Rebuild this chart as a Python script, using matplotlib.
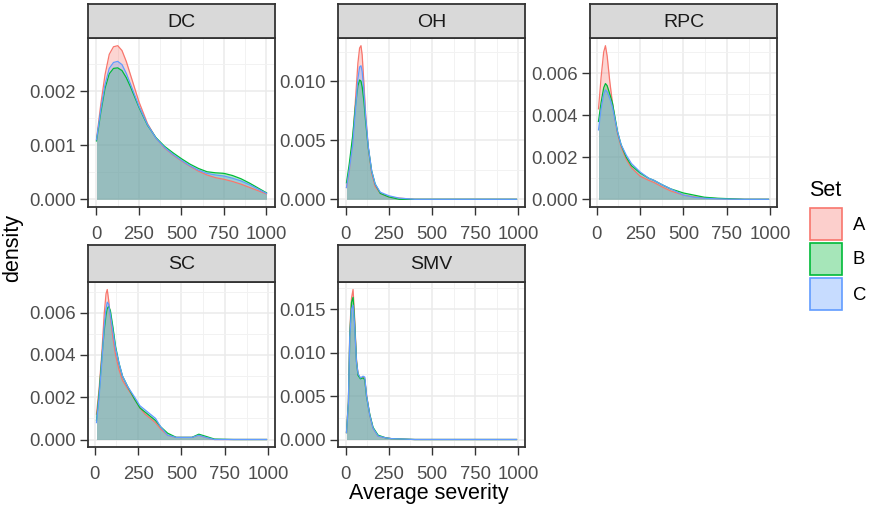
import matplotlib
matplotlib.use("Agg")
import matplotlib.pyplot as plt
from matplotlib.patches import Rectangle
from matplotlib.ticker import MultipleLocator, FormatStrFormatter

plt.rcParams['font.family'] = ['Liberation Sans', 'DejaVu Sans']

# density estimates of average severity per group and set
sets = ['A', 'B', 'C']
colors = {'A': '#F8766D', 'B': '#00BA38', 'C': '#619CFF'}

dc_x = [0, 25, 50, 75, 100, 125, 150, 175, 200, 250, 300, 350, 400, 450, 500,
        550, 600, 650, 700, 750, 800, 850, 900, 950, 1000]
dc_a = [0.00110, 0.00175, 0.00230, 0.00268, 0.00282, 0.00284, 0.00275, 0.00255,
        0.00230, 0.00180, 0.00140, 0.00113, 0.00095, 0.00082, 0.00071, 0.00061,
        0.00052, 0.00045, 0.00040, 0.00037, 0.00033, 0.00028, 0.00022, 0.00016, 0.00010]
dc_b = [0.00108, 0.00160, 0.00205, 0.00232, 0.00242, 0.00243, 0.00238, 0.00225,
        0.00208, 0.00170, 0.00137, 0.00114, 0.00098, 0.00086, 0.00075, 0.00065,
        0.00057, 0.00051, 0.00049, 0.00048, 0.00044, 0.00038, 0.00030, 0.00021, 0.00012]
dc_c = [0.00110, 0.00165, 0.00212, 0.00242, 0.00253, 0.00255, 0.00249, 0.00233,
        0.00213, 0.00172, 0.00138, 0.00113, 0.00096, 0.00083, 0.00072, 0.00062,
        0.00054, 0.00048, 0.00045, 0.00043, 0.00039, 0.00034, 0.00027, 0.00019, 0.00011]

oh_x = [4, 20, 40, 55, 70, 80, 88, 95, 105, 115, 130, 150, 170, 200, 250, 310,
        400, 600, 800, 990]
oh_a = [0.0010, 0.0024, 0.0050, 0.0082, 0.0115, 0.0128, 0.0130, 0.0122, 0.0098,
        0.0072, 0.0044, 0.0022, 0.0011, 0.0005, 0.0002, 0.0001, 0.0, 0.0, 0.0, 0.0]
oh_b = [0.0014, 0.0030, 0.0054, 0.0078, 0.0096, 0.0101, 0.0100, 0.0095, 0.0083,
        0.0066, 0.0044, 0.0024, 0.0013, 0.0005, 0.0002, 0.0, 0.0, 0.0, 0.0, 0.0]
oh_c = [0.0010, 0.0025, 0.0046, 0.0074, 0.0102, 0.0112, 0.0113, 0.0108, 0.0092,
        0.0070, 0.0045, 0.0024, 0.0013, 0.0006, 0.0003, 0.0001, 0.0, 0.0, 0.0, 0.0]

rpc_x = [10, 25, 40, 50, 60, 75, 90, 105, 120, 140, 170, 200, 250, 300, 330,
         375, 425, 500, 560, 620, 700, 760, 850, 990]
rpc_a = [0.0043, 0.0058, 0.0070, 0.0073, 0.0068, 0.0056, 0.0046, 0.0038, 0.0031,
         0.0025, 0.0019, 0.0015, 0.0011, 0.0009, 0.0008, 0.0006, 0.0004, 0.0002,
         0.00012, 0.00006, 0.00003, 0.00002, 0.0, 0.0]
rpc_b = [0.0037, 0.0046, 0.0053, 0.0055, 0.0054, 0.0050, 0.0046, 0.0039, 0.0032,
         0.0026, 0.0020, 0.0016, 0.00125, 0.0010, 0.0009, 0.0007, 0.0005, 0.0003,
         0.0002, 0.0001, 0.00005, 0.00003, 0.0, 0.0]
rpc_c = [0.0033, 0.0043, 0.0050, 0.0052, 0.0051, 0.0048, 0.0044, 0.0038, 0.0032,
         0.0026, 0.0021, 0.0017, 0.0013, 0.0010, 0.0009, 0.0007, 0.0005, 0.0002,
         0.0001, 0.00005, 0.00002, 0.00001, 0.0, 0.0]

sc_x = [10, 25, 40, 55, 65, 72, 80, 90, 105, 120, 140, 160, 190, 230, 260, 290,
        320, 350, 380, 420, 470, 520, 560, 600, 640, 690, 800, 990]
sc_a = [0.0012, 0.0024, 0.0040, 0.0060, 0.0069, 0.0071, 0.0066, 0.0058, 0.0048,
        0.0040, 0.0033, 0.0028, 0.0024, 0.0019, 0.0015, 0.0012, 0.0010, 0.0008,
        0.0005, 0.0002, 0.0001, 0.0001, 0.0001, 0.0002, 0.0001, 0.0, 0.0, 0.0]
sc_b = [0.0009, 0.0022, 0.0038, 0.0052, 0.0059, 0.0062, 0.0063, 0.0061, 0.0053,
        0.0044, 0.0036, 0.0030, 0.0025, 0.0019, 0.0015, 0.0013, 0.0011, 0.0009,
        0.0006, 0.0003, 0.0001, 0.0001, 0.0001, 0.00025, 0.00015, 0.00002, 0.0, 0.0]
sc_c = [0.0008, 0.0020, 0.0036, 0.0054, 0.0062, 0.0065, 0.0064, 0.0059, 0.0051,
        0.0043, 0.0036, 0.0030, 0.0025, 0.0020, 0.0016, 0.0014, 0.0012, 0.0010,
        0.0006, 0.0002, 0.0001, 0.0001, 0.0001, 0.0002, 0.0001, 0.0, 0.0, 0.0]

smv_x = [4, 15, 23, 33, 42, 50, 62, 71, 85, 100, 110, 120, 139, 158, 187, 230,
         264, 400, 600, 800, 990]
smv_a = [0.0008, 0.0045, 0.0125, 0.0163, 0.0173, 0.0145, 0.0092, 0.0075, 0.0071,
         0.0072, 0.0070, 0.0052, 0.0028, 0.0013, 0.0004, 0.0002, 0.0001, 0.0, 0.0, 0.0, 0.0]
smv_b = [0.0008, 0.0043, 0.0120, 0.0158, 0.0164, 0.0140, 0.0090, 0.0074, 0.0070,
         0.0071, 0.0069, 0.0050, 0.0029, 0.0014, 0.0005, 0.0002, 0.0001, 0.0, 0.0, 0.0, 0.0]
smv_c = [0.0008, 0.0042, 0.0118, 0.0150, 0.0155, 0.0135, 0.0089, 0.0076, 0.0071,
         0.0073, 0.0072, 0.0051, 0.0028, 0.0013, 0.0004, 0.0002, 0.0001, 0.0, 0.0, 0.0, 0.0]

panels = [
    ('DC', dc_x, {'A': dc_a, 'B': dc_b, 'C': dc_c}, 0.001),
    ('OH', oh_x, {'A': oh_a, 'B': oh_b, 'C': oh_c}, 0.005),
    ('RPC', rpc_x, {'A': rpc_a, 'B': rpc_b, 'C': rpc_c}, 0.002),
    ('SC', sc_x, {'A': sc_a, 'B': sc_b, 'C': sc_c}, 0.002),
    ('SMV', smv_x, {'A': smv_a, 'B': smv_b, 'C': smv_c}, 0.005),
]

W, H = 870, 508
fig = plt.figure(figsize=(W / 100, H / 100), dpi=100)


def px_box(l, t, r, b):
    # pixel box (top-left origin) -> figure fraction rect
    return [l / W, 1 - b / H, (r - l) / W, (b - t) / H]


col_left = [88, 338, 590]
rows = [(4, 38, 207), (245, 282, 447)]  # strip top, panel top, panel bottom
pw = 187
border = '#333333'

for i, (name, xs, ys, step) in enumerate(panels):
    r, c = divmod(i, 3)
    st, pt, pb = rows[r]
    l = col_left[c]

    ax = fig.add_axes(px_box(l, pt, l + pw, pb))
    for s in sets:
        ax.fill_between(xs, ys[s], 0, color=colors[s], alpha=0.3, lw=0, zorder=2)
    for s in sets:
        ax.plot(xs, ys[s], color=colors[s], lw=0.9, zorder=3)

    ymax = max(max(ys[s]) for s in sets)
    xmin, xmax = min(xs), max(xs)
    dx = xmax - xmin
    ax.set_xlim(xmin - 0.05 * dx, xmax + 0.05 * dx)
    ax.set_ylim(-0.05 * ymax, 1.05 * ymax)

    ax.xaxis.set_major_locator(MultipleLocator(250))
    ax.xaxis.set_minor_locator(MultipleLocator(125))
    ax.yaxis.set_major_locator(MultipleLocator(step))
    ax.yaxis.set_minor_locator(MultipleLocator(step / 2))
    ax.yaxis.set_major_formatter(FormatStrFormatter('%.3f'))
    ax.xaxis.set_major_formatter(FormatStrFormatter('%d'))

    ax.grid(which='major', color='#EBEBEB', lw=1.1, zorder=0)
    ax.grid(which='minor', color='#F2F2F2', lw=0.7, zorder=0)
    ax.set_axisbelow(True)
    ax.tick_params(which='major', length=5.5, width=1, color=border,
                   labelsize=13.3, labelcolor='#4D4D4D')
    ax.tick_params(axis='y', pad=3.5)
    ax.tick_params(axis='x', pad=8.5)
    ax.tick_params(which='minor', length=0)
    for sp in ax.spines.values():
        sp.set_color(border)
        sp.set_linewidth(1.3)

    # facet strip
    sax = fig.add_axes(px_box(l, st, l + pw, pt))
    sax.set_xticks([])
    sax.set_yticks([])
    sax.set_facecolor('#D9D9D9')
    for sp in sax.spines.values():
        sp.set_color(border)
        sp.set_linewidth(1.3)
    sax.text(0.5, 0.47, name, ha='center', va='center', fontsize=14,
             color='#1A1A1A', transform=sax.transAxes)

fig.text(429 / W, 1 - 494 / H, 'Average severity', ha='center', va='center',
         fontsize=15.5)
fig.text(13 / W, 1 - 248 / H, 'density', ha='center', va='center',
         rotation=90, fontsize=15.5)

# legend for Set, laid out in pixel units
lax = fig.add_axes([0, 0, 1, 1], zorder=-1)
lax.set_xlim(0, W)
lax.set_ylim(H, 0)
lax.axis('off')
lax.text(809, 190, 'Set', ha='left', va='center', fontsize=15.5)
key_top = [208, 243, 278]
for s, kt in zip(sets, key_top):
    lax.add_patch(Rectangle((810, kt), 32, 32, facecolor=colors[s], alpha=0.35,
                            edgecolor='none'))
    lax.add_patch(Rectangle((810, kt), 32, 32, facecolor='none',
                            edgecolor=colors[s], lw=1.2))
    lax.text(853, kt + 17, s, ha='left', va='center', fontsize=13.3)

fig.savefig('out.png', dpi=100, facecolor='white')
